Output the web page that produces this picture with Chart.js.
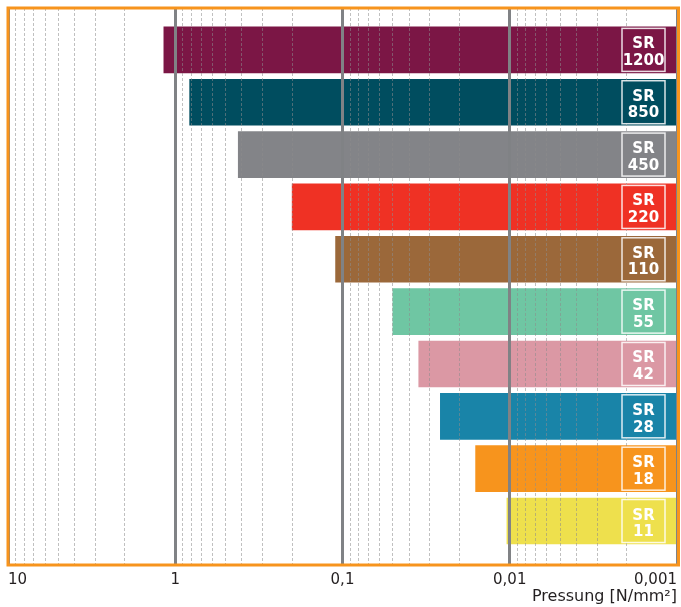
<!DOCTYPE html>
<html>
<head>
<meta charset="utf-8">
<script src="https://cdn.jsdelivr.net/npm/chart.js@4.4.1/dist/chart.umd.min.js"></script>
<style>
  html, body { margin: 0; padding: 0; background: #fff; }
  #wrap { width: 681px; height: 607px; }
</style>
</head>
<body>
<div id="wrap"><canvas id="myChart"></canvas></div>
<script>
// SR types, top to bottom
const types = ['1200', '850', '450', '220', '110', '55', '42', '28', '18', '11'];
// max pressure [N/mm²] (left end of each bar)
const maxPressure = [1.17, 0.82, 0.42, 0.2, 0.11, 0.05, 0.035, 0.026, 0.016, 0.0104];
// all bars start at the right end of the axis
const minPressure = 0.001;
const barColors = ['#7b1645', '#004d5f', '#838488', '#ef3124', '#9b683a',
                   '#6fc6a3', '#db98a4', '#1984a8', '#f7941d', '#eee04d'];
const decadeValues = [0.001, 0.01, 0.1, 1, 10];
const decadeLabels = ['0,001', '0,01', '0,1', '1', '10'];

// grid lines at 1..9 x 10^n
let gridValues = [];
for (let e = -3; e <= 0; e++) {
    for (let m = 1; m <= 9; m++) {
        gridValues.push(parseFloat((m * Math.pow(10, e)).toPrecision(3)));
    }
}
gridValues.push(10);

function isDecade(v) {
    return decadeValues.indexOf(v) >= 0;
}

const tagPlugin = {
    id: 'tagsAndFrame',
    afterDraw(chart) {
        const {ctx, chartArea, scales} = chart;
        const right = scales.x.getPixelForValue(minPressure) - 12;
        ctx.save();
        types.forEach((t, i) => {
            const cy = scales.y.getPixelForValue(i);
            ctx.fillStyle = barColors[i];
            ctx.fillRect(right - 43, cy - 21.5, 43, 43);
            ctx.strokeStyle = 'rgba(255,255,255,0.85)';
            ctx.lineWidth = 1.5;
            ctx.strokeRect(right - 43, cy - 21.5, 43, 43);
            ctx.fillStyle = '#fff';
            ctx.font = 'bold 15px "DejaVu Sans"';
            ctx.textAlign = 'center';
            ctx.textBaseline = 'alphabetic';
            ctx.fillText('SR', right - 21.5, cy - 1.5);
            ctx.fillText(t, right - 21.5, cy + 15.2);
        });
        ctx.strokeStyle = '#f7941d';
        ctx.lineWidth = 3;
        ctx.strokeRect(chartArea.left, chartArea.top, chartArea.width + 1.5, chartArea.height);
        ctx.restore();
    }
};

new Chart(document.getElementById('myChart'), {
    type: 'bar',
    data: {
        labels: types,
        datasets: [{
            data: types.map((t, i) => ({x: [minPressure, maxPressure[i]], y: i})),
            backgroundColor: barColors,
            borderWidth: 0,
            barThickness: 46
        }]
    },
    options: {
        indexAxis: 'y',
        responsive: true,
        maintainAspectRatio: false,
        animation: false,
        layout: {padding: {top: 8, left: 8, right: 4, bottom: 2}},
        plugins: {
            legend: {display: false},
            tooltip: {enabled: false},
            title: {
                display: true,
                position: 'bottom',
                align: 'end',
                text: 'Pressung [N/mm²]',
                color: '#231f20',
                font: {family: 'DejaVu Sans', size: 16, weight: 'normal', lineHeight: 1},
                padding: {top: 0, bottom: 0}
            }
        },
        scales: {
            x: {
                type: 'logarithmic',
                reverse: true,
                min: 0.001,
                max: 10,
                afterBuildTicks: (scale) => {
                    scale.ticks = gridValues.map(v => ({value: v, major: isDecade(v)}));
                },
                afterFit: (scale) => {
                    scale.height = 24;
                },
                ticks: {
                    autoSkip: false,
                    maxRotation: 0,
                    minRotation: 0,
                    align: 'inner',
                    padding: 8,
                    color: '#231f20',
                    font: {family: 'DejaVu Sans', size: 15, lineHeight: 1},
                    callback: (value) => {
                        const k = decadeValues.indexOf(value);
                        return k >= 0 ? decadeLabels[k] : '';
                    }
                },
                grid: {
                    z: 1,
                    drawTicks: false,
                    color: (ctx) => ctx.tick && isDecade(ctx.tick.value) ? '#808285' : 'rgba(140,140,140,0.55)',
                    lineWidth: (ctx) => ctx.tick && isDecade(ctx.tick.value) ? 3 : 1
                },
                border: {
                    display: false,
                    dash: (ctx) => ctx.tick && isDecade(ctx.tick.value) ? [] : [3, 2]
                }
            },
            y: {
                type: 'linear',
                display: false,
                offset: false,
                reverse: true,
                min: -0.8,
                max: 9.84
            }
        }
    },
    plugins: [tagPlugin]
});
</script>
</body>
</html>
